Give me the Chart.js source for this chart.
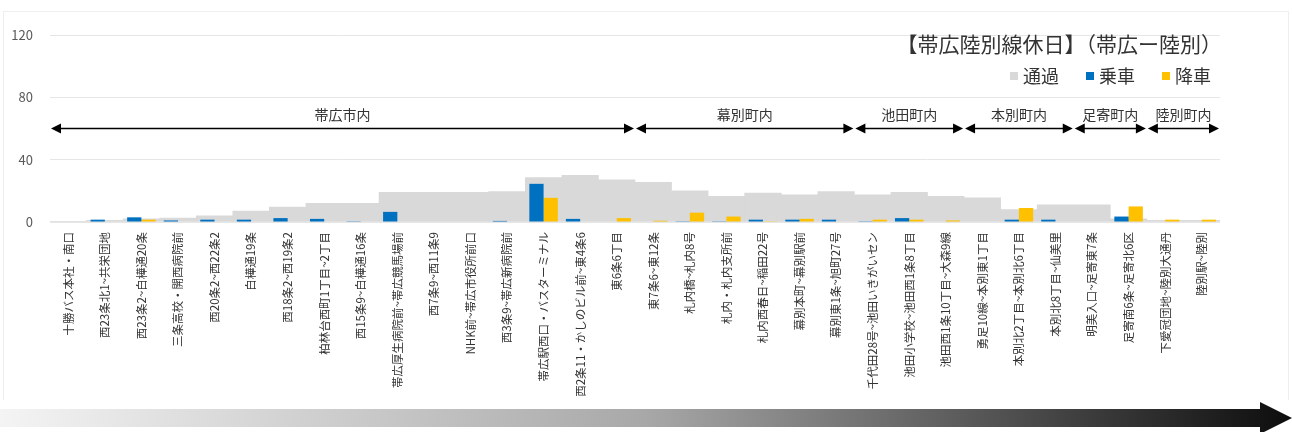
<!DOCTYPE html>
<html lang="ja">
<head>
<meta charset="utf-8">
<title>帯広陸別線休日</title>
<script src="https://cdn.jsdelivr.net/npm/chart.js@4/dist/chart.umd.min.js"></script>
<style>
  html, body { margin: 0; padding: 0; background: #fff; }
  #wrap { position: relative; width: 1292px; height: 432px; }
</style>
</head>
<body>
<div id="wrap"><canvas id="chart" width="1292" height="432"></canvas></div>
<script>
// 区間(停留所)
const stops = [
  '十勝バス本社・南口', '西23条北1~共栄団地', '西23条2~白樺通20条', '三条高校・開西病院前',
  '西20条2~西22条2', '白樺通19条', '西18条2~西19条2', '柏林台西町1丁目~2丁目',
  '西15条9~白樺通16条', '帯広厚生病院前~帯広競馬場前', '西7条9~西11条9', 'NHK前~帯広市役所前口',
  '西3条9~帯広新病院前', '帯広駅西口・バスターミナル', '西2条11・かしのビル前~東4条6', '東6条6丁目',
  '東7条6~東12条', '札内橋~札内8号', '札内・札内支所前', '札内西春日~稲田22号',
  '幕別本町~幕別駅前', '幕別東1条~旭町27号', '千代田28号~池田いきがいセン', '池田小学校~池田西1条8丁目',
  '池田西1条10丁目~大森9線', '勇足10線~本別東1丁目', '本別北2丁目~本別北6丁目', '本別北8丁目~仙美里',
  '明美入口~足寄東7条', '足寄南6条~足寄北6区', '下愛冠団地~陸別大通丹', '陸別駅~陸別'
];

// 人数
const passing = [0.5, 1, 2, 2.5, 4, 7, 9.5, 12, 12, 19, 19, 19, 19.5, 28.5, 30, 27,
                 25.5, 20, 16.5, 18.5, 17.5, 19.5, 17.5, 19, 16.5, 15.5, 8, 11, 11, 2, 1, 1];
const boarding = [0, 1.5, 3, 1, 1.5, 1.5, 2.5, 2, 0.5, 6.5, 0, 0, 0.7, 24.5, 2, 0,
                  0, 0.5, 0.5, 1.5, 1.5, 1.5, 0.5, 2.5, 0, 0, 1.5, 1.5, 0, 3.5, 0, 0];
const alighting = [0, 0.3, 1.5, 0, 0, 0, 0, 0, 0, 0, 0, 0, 0, 15.5, 0, 2.5,
                   0.8, 6, 3.5, 0.5, 2, 0, 1.5, 1.5, 1, 0, 9, 0, 0, 10, 1.5, 1.5];

const yTicks = [0, 40, 80, 120];

// 町ごとの範囲(最初と最後の区間番号)
const areaNames = ['帯広市内', '幕別町内', '池田町内', '本別町内', '足寄町内', '陸別町内'];
const areaFirst = [0, 16, 22, 25, 28, 30];
const areaLast = [15, 21, 24, 27, 29, 31];
const areaArrowAt = 60;

const chartTitle = '【帯広陸別線休日】（帯広ー陸別）';

const FONT = '"Noto Sans CJK JP", "Noto Sans", sans-serif';
const TEXT = '#333333';

function arrowHead(ctx, tipX, y, dir) {
  ctx.beginPath();
  ctx.moveTo(tipX, y);
  ctx.lineTo(tipX - dir * 10, y - 5);
  ctx.lineTo(tipX - dir * 10, y + 5);
  ctx.closePath();
  ctx.fill();
}

// 町名の矢印
const areaArrows = {
  id: 'areaArrows',
  afterDatasetsDraw(chart) {
    const { ctx, scales: { x, y } } = chart;
    const half = (x.getPixelForTick(1) - x.getPixelForTick(0)) / 2;
    const ay = y.getPixelForValue(areaArrowAt);
    ctx.save();
    ctx.strokeStyle = '#000';
    ctx.fillStyle = '#000';
    ctx.lineWidth = 1.3;
    areaNames.forEach((name, i) => {
      const x0 = x.getPixelForTick(areaFirst[i]) - half + 1;
      const x1 = x.getPixelForTick(areaLast[i]) + half - 1;
      ctx.beginPath();
      ctx.moveTo(x0 + 5, ay);
      ctx.lineTo(x1 - 5, ay);
      ctx.stroke();
      arrowHead(ctx, x0, ay, -1);
      arrowHead(ctx, x1, ay, 1);
      ctx.save();
      ctx.fillStyle = TEXT;
      ctx.font = '14px ' + FONT;
      ctx.textAlign = 'center';
      ctx.textBaseline = 'middle';
      ctx.fillText(name, (x0 + x1) / 2, ay - 14);
      ctx.restore();
    });
    ctx.restore();
  }
};

// タイトルと凡例
const titleLegend = {
  id: 'titleLegend',
  afterDraw(chart) {
    const { ctx } = chart;
    ctx.save();
    ctx.fillStyle = TEXT;
    ctx.font = '21px ' + FONT;
    ctx.textAlign = 'right';
    ctx.textBaseline = 'middle';
    ctx.fillText(chartTitle, 1222, 44);

    ctx.font = '18px ' + FONT;
    ctx.textAlign = 'left';
    let xPos = 1211;
    const items = chart.data.datasets.slice().reverse();
    items.forEach(ds => {
      const w = ctx.measureText(ds.label).width;
      xPos -= w;
      ctx.fillStyle = TEXT;
      ctx.fillText(ds.label, xPos, 76);
      ctx.fillStyle = ds.backgroundColor;
      ctx.fillRect(xPos - 13, 72, 8, 8);
      xPos -= 40;
    });
    ctx.restore();
  }
};

// 枠と下部の進行方向矢印
const frameArrow = {
  id: 'frameArrow',
  beforeDraw(chart) {
    const { ctx } = chart;
    ctx.save();
    ctx.strokeStyle = '#eeeeee';
    ctx.lineWidth = 1;
    ctx.beginPath();
    ctx.moveTo(3.5, 400);
    ctx.lineTo(3.5, 11.5);
    ctx.lineTo(1288.5, 11.5);
    ctx.lineTo(1288.5, 400);
    ctx.stroke();
    ctx.restore();
  },
  afterDraw(chart) {
    const { ctx } = chart;
    const g = ctx.createLinearGradient(0, 0, 1292, 0);
    g.addColorStop(0, '#f4f4f4');
    g.addColorStop(0.5, '#a8a8a8');
    g.addColorStop(0.85, '#3a3a3a');
    g.addColorStop(1, '#0d0d0d');
    ctx.save();
    ctx.fillStyle = g;
    ctx.beginPath();
    ctx.moveTo(0, 409);
    ctx.lineTo(1260, 409);
    ctx.lineTo(1260, 402);
    ctx.lineTo(1292, 418);
    ctx.lineTo(1260, 434);
    ctx.lineTo(1260, 427);
    ctx.lineTo(0, 427);
    ctx.closePath();
    ctx.fill();
    ctx.restore();
  }
};

const ctx = document.getElementById('chart');
new Chart(ctx, {
  type: 'bar',
  data: {
    labels: stops,
    datasets: [
      // 通過は区間幅いっぱいに背面へ
      { label: '通過', data: passing, backgroundColor: '#d9d9d9', grouped: false,
        barPercentage: 1, categoryPercentage: 1, order: 2 },
      { label: '乗車', data: boarding, backgroundColor: '#0070c0',
        barPercentage: 1, categoryPercentage: 0.78, order: 1 },
      { label: '降車', data: alighting, backgroundColor: '#ffc000',
        barPercentage: 1, categoryPercentage: 0.78, order: 1 }
    ]
  },
  options: {
    responsive: false,
    animation: false,
    layout: { padding: { top: 35, left: 0, right: 72, bottom: 0 } },
    plugins: {
      legend: { display: false },
      title: { display: false },
      tooltip: { enabled: false }
    },
    scales: {
      x: {
        grid: { display: false, drawTicks: false },
        border: { display: false },
        ticks: {
          autoSkip: false, minRotation: 90, maxRotation: 90, padding: 10,
          color: '#333', font: { family: FONT, size: 11.5 }
        },
        afterFit: s => { s.height = 210; }
      },
      y: {
        min: 0, max: 120,
        afterBuildTicks: s => { s.ticks = yTicks.map(v => ({ value: v })); },
        grid: { color: '#e6e6e6', drawTicks: false },
        border: { display: false },
        ticks: { padding: 17, color: '#595959', font: { family: FONT, size: 13 } },
        afterFit: s => { s.width = 50; }
      }
    }
  },
  plugins: [frameArrow, areaArrows, titleLegend]
});
</script>
</body>
</html>
